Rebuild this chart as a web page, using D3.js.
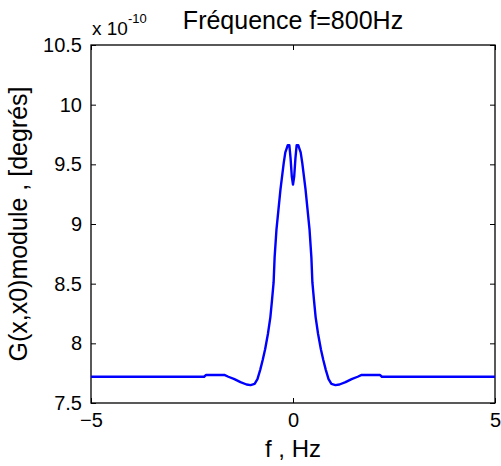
<!DOCTYPE html>
<html>
<head>
<meta charset="UTF-8">
<script src="https://d3js.org/d3.v7.min.js"></script>
<style>
  body { margin: 0; background: #fff; }
  text { font-family: "Liberation Sans", Arial, sans-serif; fill: #000; }
  .axis path { display: none; }
  .axis line { stroke: #000; stroke-width: 1px; }
  .axis text { font-size: 20px; }
</style>
</head>
<body>
<script>
// DATA (values in units of 1e-10)
var freqs = [-5, -2.2, -2.15, -1.7, -1.6, -1.45, -1.3, -1.15, -1.05, -0.95, -0.88, -0.81, -0.75, -0.69,
  -0.62, -0.56, -0.52, -0.48, -0.455, -0.41, -0.36, -0.31, -0.23, -0.19, -0.16, -0.13, -0.09, -0.06, -0.03,
  0,
  0.03, 0.06, 0.09, 0.13, 0.16, 0.19, 0.23, 0.31, 0.36, 0.41, 0.455, 0.48, 0.52, 0.56, 0.62,
  0.69, 0.75, 0.81, 0.88, 0.95, 1.05, 1.15, 1.3, 1.45, 1.6, 1.7, 2.15, 2.2, 5];
var module = [7.72, 7.72, 7.735, 7.735, 7.72, 7.70, 7.675, 7.655, 7.65, 7.66, 7.70, 7.78, 7.86, 7.95,
  8.08, 8.22, 8.36, 8.51, 8.72, 8.95, 9.12, 9.29, 9.51, 9.60, 9.63, 9.66, 9.66, 9.55, 9.40,
  9.33,
  9.40, 9.55, 9.66, 9.66, 9.63, 9.60, 9.51, 9.29, 9.12, 8.95, 8.72, 8.51, 8.36, 8.22, 8.08,
  7.95, 7.86, 7.78, 7.70, 7.66, 7.65, 7.655, 7.675, 7.70, 7.72, 7.735, 7.735, 7.72, 7.72];
var xTicks = [-5, 0, 5];
var yTicks = [7.5, 8, 8.5, 9, 9.5, 10, 10.5];

var W = 501, H = 466;
var margin = {top: 45, right: 6, bottom: 63, left: 91},
    width = W - margin.left - margin.right,
    height = H - margin.top - margin.bottom;

var svg = d3.select("body").append("svg")
    .attr("width", W)
    .attr("height", H);

var g = svg.append("g")
    .attr("transform", "translate(" + margin.left + "," + margin.top + ")");

var x = d3.scaleLinear().domain([-5, 5]).range([0, width]);
var y = d3.scaleLinear().domain([7.5, 10.5]).range([height, 0]);

// axes, ticks pointing inward like matlab
g.append("g").attr("class", "axis")
    .attr("transform", "translate(0," + height + ")")
    .call(d3.axisBottom(x).tickValues(xTicks).tickSizeInner(-5).tickSizeOuter(0).tickPadding(10).tickFormat(d3.format("d")));
g.append("g").attr("class", "axis")
    .call(d3.axisTop(x).tickValues(xTicks).tickSizeInner(-5).tickSizeOuter(0).tickFormat(""));
g.append("g").attr("class", "axis")
    .call(d3.axisLeft(y).tickValues(yTicks).tickSizeInner(-5).tickSizeOuter(0).tickPadding(9).tickFormat(function (d) { return String(d); }));
g.append("g").attr("class", "axis")
    .attr("transform", "translate(" + width + ",0)")
    .call(d3.axisRight(y).tickValues(yTicks).tickSizeInner(-5).tickSizeOuter(0).tickFormat(""));

// box
g.append("rect")
    .attr("width", width)
    .attr("height", height)
    .style("fill", "none")
    .style("stroke", "#000")
    .style("stroke-width", 1.3);

// curve
var pts = freqs.map(function (f, i) { return [f, module[i]]; });
var line = d3.line()
    .x(function (d) { return x(d[0]); })
    .y(function (d) { return y(d[1]); });
g.append("path")
    .datum(pts)
    .attr("d", line)
    .style("fill", "none")
    .style("stroke", "#0000ff")
    .style("stroke-width", 2.4)
    .style("stroke-linejoin", "round");

// exponent label
var ex = svg.append("text")
    .attr("x", margin.left + 1)
    .attr("y", 35)
    .style("font-size", "19px");
ex.append("tspan").text("x 10");
ex.append("tspan").attr("dy", -12).style("font-size", "13px").text("-10");

// title
svg.append("text")
    .attr("x", margin.left + width / 2)
    .attr("y", 29)
    .attr("text-anchor", "middle")
    .style("font-size", "25px")
    .text("Fréquence f=800Hz");

// x label
svg.append("text")
    .attr("x", margin.left + width / 2)
    .attr("y", 457)
    .attr("text-anchor", "middle")
    .style("font-size", "24px")
    .text("f , Hz");

// y label
svg.append("text")
    .attr("transform", "translate(27," + (margin.top + height / 2) + ") rotate(-90)")
    .attr("text-anchor", "middle")
    .style("font-size", "25px")
    .text("G(x,x0)module , [degrés]");
</script>
</body>
</html>
